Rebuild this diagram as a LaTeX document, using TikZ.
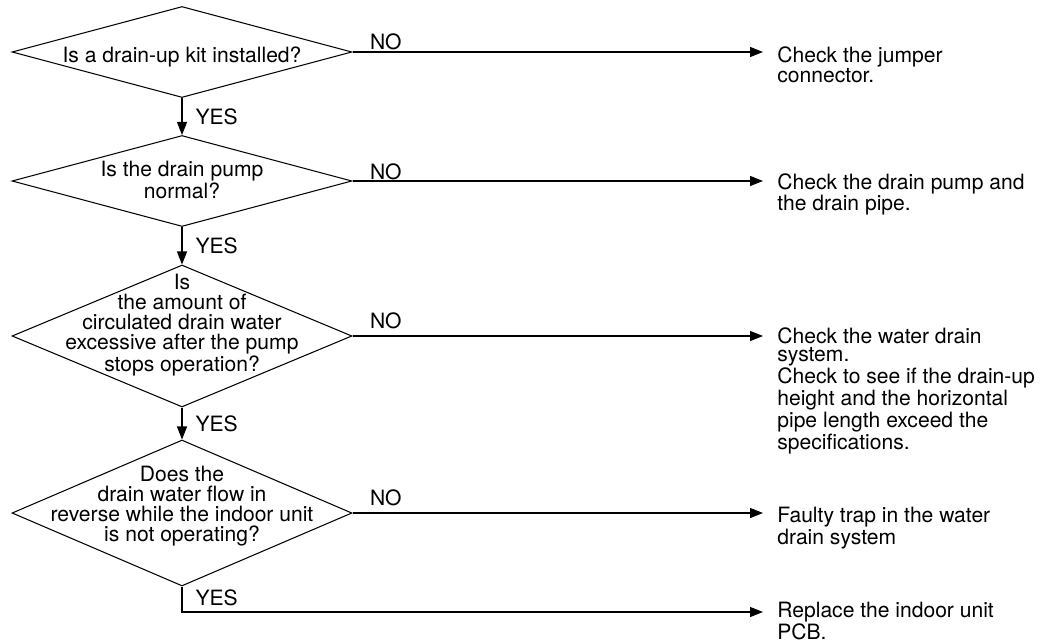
\documentclass[tikz,border=0pt]{standalone}
\usepackage{fontspec}
\setmainfont{TeX Gyre Heros}
\usetikzlibrary{shapes.geometric,arrows.meta,positioning}
\tikzset{%
  decision/.style={%
    diamond,%
    draw,%
    line width=0.6pt,%
    inner sep=0pt,%
    minimum width=6.8cm},%
  question/.style={%
    align=center,%
    inner sep=0pt,%
    font=\fontsize{12}{11.4}\selectfont},%
  action/.style={%
    align=left,%
    inner sep=0pt,%
    anchor=north west,%
    font=\fontsize{12}{10.6}\selectfont},%
  answer/.style={%
    inner sep=0pt,%
    font=\fontsize{12}{11.4}\selectfont},%
  flow/.style={%
    draw,%
    line width=0.6pt,%
    -{Triangle[length=0.26cm,width=0.2cm]}}
}

\begin{document}
\begin{tikzpicture}[x=0.02cm,y=-0.02cm]
  \useasboundingbox (0,0) rectangle (1050,642);
  % the four questions
  \node [decision,minimum height=1.82cm] (q1) at (182,52) {};
  \node [decision,minimum height=1.82cm] (q2) at (182,181) {};
  \node [decision,minimum height=2.84cm] (q3) at (182,336) {};
  \node [decision,minimum height=2.92cm] (q4) at (182,513) {};
  \node [question] (t1) at (182,57) {Is a drain-up kit installed?};
  \node [question] (t2) at (182,180) {Is the drain pump\\normal?};
  \node [question] (t3) at (182,325) {%
    Is\\the amount of\\circulated drain water\\%
    excessive after the pump\\stops operation?};
  \node [question] (t4) at (182,506) {%
    Does the\\drain water flow in\\%
    reverse while the indoor unit\\is not operating?};
  % what to do
  \node [action] (a1) at (777,46) {Check the jumper\\connector.};
  \node [action] (a2) at (777,173) {Check the drain pump and\\the drain pipe.};
  \node [action] (a3) at (777,327) {%
    Check the water drain\\system.\\%
    Check to see if the drain-up\\height and the horizontal\\%
    pipe length exceed the\\specifications.};
  \node [action] (a4) at (777,507) {Faulty trap in the water\\drain system};
  \node [action] (a5) at (777,602) {Replace the indoor unit\\PCB.};
  % YES goes down
  \draw [flow] (q1.south) -- node [answer,right=0.26cm] (yes1) {YES} (q2.north);
  \draw [flow] (q2.south) -- node [answer,right=0.26cm] (yes2) {YES} (q3.north);
  \draw [flow] (q3.south) -- node [answer,right=0.26cm] (yes3) {YES} (q4.north);
  \draw [flow,shorten >=0.28cm] (q4.south) |-
    node [answer,pos=0.5,anchor=south west,xshift=0.26cm,yshift=0.12cm] (yes4) {YES}
    ([yshift=-0.2cm]a5.north west);
  % NO goes right
  \draw [flow,shorten >=0.28cm] (q1.east) --
    node [answer,pos=0,anchor=south west,xshift=0.34cm,yshift=0.04cm] (no1) {NO}
    (q1.east -| a1.west);
  \draw [flow,shorten >=0.28cm] (q2.east) --
    node [answer,pos=0,anchor=south west,xshift=0.34cm,yshift=0.02cm] (no2) {NO}
    (q2.east -| a2.west);
  \draw [flow,shorten >=0.28cm] (q3.east) --
    node [answer,pos=0,anchor=south west,xshift=0.34cm,yshift=0.14cm] (no3) {NO}
    (q3.east -| a3.west);
  \draw [flow,shorten >=0.28cm] (q4.east) --
    node [answer,pos=0,anchor=south west,xshift=0.34cm,yshift=0.14cm] (no4) {NO}
    (q4.east -| a4.west);
\end{tikzpicture}
\end{document}
